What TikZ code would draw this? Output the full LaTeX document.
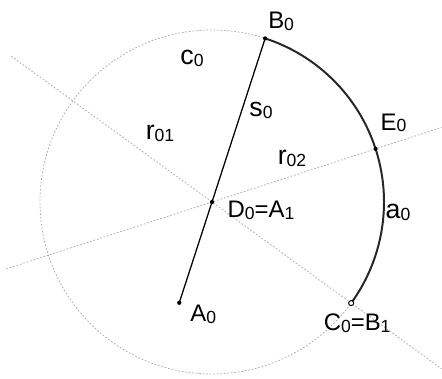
\documentclass[tikz,border=0pt]{standalone}
\usepackage{fontspec}
\setmainfont{Liberation Sans}
\usetikzlibrary{calc, positioning}

\newcommand{\ix}[1]{\raisebox{-0.15ex}{\fontsize{12.5}{13}\selectfont #1}}

\begin{document}
\begin{tikzpicture}[
    every node/.style={font=\fontsize{17}{19}\selectfont},
    pt/.style={circle, fill=black, inner sep=0pt, minimum size=3pt},
    ptopen/.style={circle, draw=black, fill=white, line width=0.7pt, inner sep=0pt, minimum size=3.6pt},
    lbl/.style={inner sep=0pt},
    lbllow/.style={inner sep=0pt, font=\fontsize{19}{21}\selectfont},
    aux/.style={gray!65, line width=0.55pt, dash pattern=on 1.2pt off 1.3pt},
    arcline/.style={black!85, line width=1.4pt},
    segline/.style={black, line width=0.9pt}
]
\useasboundingbox (0,0) rectangle (11.05,9.475);

% construction points
\coordinate (D0) at (5.3,4.425);
\coordinate (B0) at ($(D0)+(72:4.3)$);
\coordinate (E0) at ($(D0)+(18:4.3)$);
\coordinate (C0) at ($(D0)+(-36:4.3)$);
\coordinate (A0) at ($(D0)+(252:2.65)$);
\coordinate (L1a) at ($(D0)+(144:6.2)$);
\coordinate (L1b) at ($(D0)+(-36:7.1)$);
\coordinate (L2a) at ($(D0)+(198:5.4)$);
\coordinate (L2b) at ($(D0)+(18:6.05)$);

% circle c0 and the two rays
\draw[aux] (D0) circle[radius=4.3];
\draw[aux] (L1a) -- (L1b);
\draw[aux] (L2a) -- (L2b);

% arc a0 and segment s0
\draw[arcline] (B0) arc[start angle=72, end angle=-36, radius=4.3];
\draw[segline] (A0) -- (B0);

\node[pt] (dotB0) at (B0) {};
\node[pt] (dotE0) at (E0) {};
\node[pt] (dotD0) at (D0) {};
\node[pt] (dotA0) at (A0) {};
\node[ptopen] (dotC0) at (C0) {};

% Labels
\node[lbl] (labB0) at ([shift={(0.4,0.425)}]B0) {B\ix{0}};
\node[lbl] (labE0) at ([shift={(0.45,0.65)}]E0) {E\ix{0}};
\node[lbl] (labD0) at ([shift={(1.225,-0.2)}]D0) {D\ix{0}=A\ix{1}};
\node[lbl] (labA0) at ([shift={(0.6,-0.3)}]A0) {A\ix{0}};
\node[lbl] (labC0) at ([shift={(0.15,-0.5)}]C0) {C\ix{0}=B\ix{1}};
\node[lbllow] (labc0) at ($(D0)+(-0.5,3.6)$) {c\ix{0}};
\node[lbllow] (labr01) at ($(D0)+(-1.3,1.725)$) {r\ix{01}};
\node[lbllow] (labs0) at ($(D0)+(1.225,2.3)$) {s\ix{0}};
\node[lbllow] (labr02) at ($(D0)+(2.0,1.1)$) {r\ix{02}};
\node[lbllow] (laba0) at ($(D0)+(4.65,-0.25)$) {a\ix{0}};

\end{tikzpicture}
\end{document}
